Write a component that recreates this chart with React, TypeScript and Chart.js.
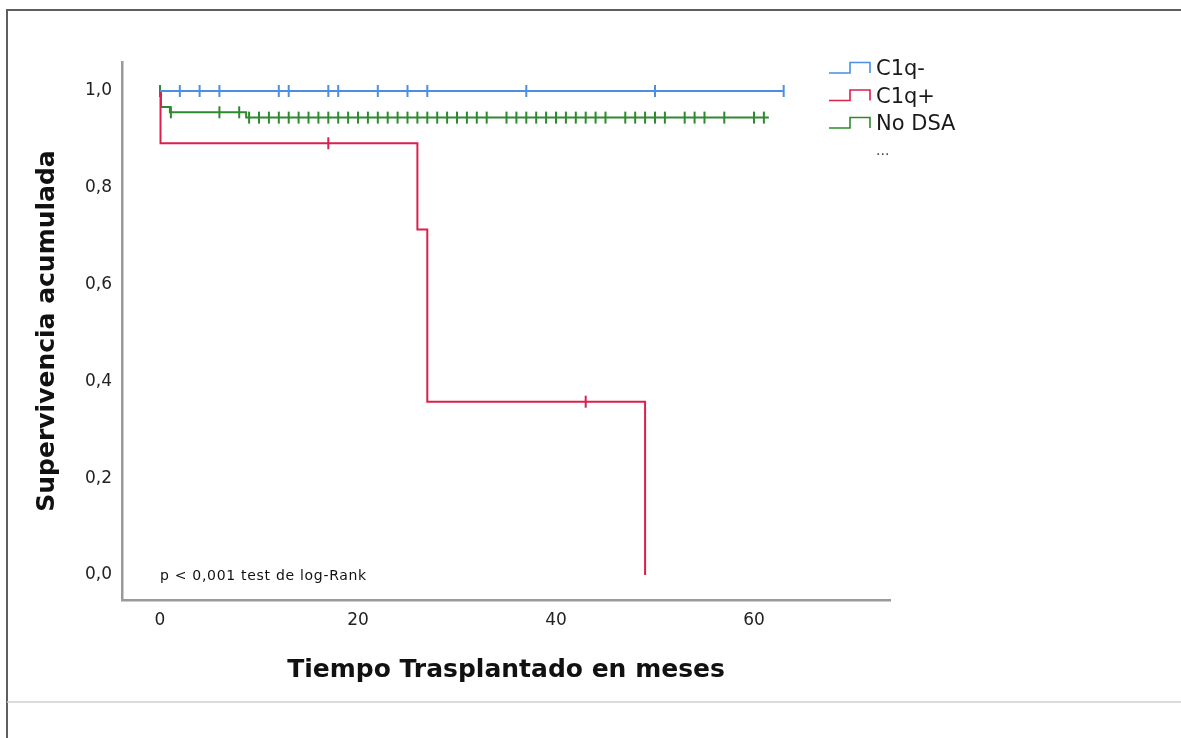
import { useEffect, useRef } from "react";
import { Chart, registerables } from "chart.js";

Chart.register(...registerables);

const groupLabels = ["C1q-", "C1q+", "No DSA"];
const groupColors = ["#4a8fe0", "#dc1f4c", "#2e8a2e"];

// Kaplan–Meier step points: time (months) and cumulative survival
const c1qNegTimes = [0, 63];
const c1qNegSurvival = [1, 1];
const c1qPosTimes = [0, 0.05, 26, 27, 49];
const c1qPosSurvival = [1, 0.892, 0.714, 0.358, 0];
const noDsaTimes = [0, 0.1, 1.0, 8.7, 61.5];
const noDsaSurvival = [1, 0.967, 0.956, 0.945, 0.945];

// Censored observations (months)
const c1qNegCensored = [2, 4, 6, 12, 13, 17, 18, 22, 25, 27, 37, 50, 63];
const c1qPosCensored = [17, 43];
const noDsaCensored = [
  0, 1.1, 6, 8, 9, 10, 11, 12, 13, 14, 15, 16, 17, 18, 19, 20, 21, 22, 23, 24,
  25, 26, 27, 28, 29, 30, 31, 32, 33, 35, 36, 37, 38, 39, 40, 41, 42, 43, 44,
  45, 47, 48, 49, 50, 51, 53, 54, 55, 57, 60, 61,
];

const xTicks = [0, 20, 40, 60];
const yTicks = [0, 0.2, 0.4, 0.6, 0.8, 1.0];

const FONT = "'DejaVu Sans', sans-serif";

function survivalAt(times: number[], surv: number[], t: number) {
  let v = surv[0];
  for (let i = 0; i < times.length; i++) {
    if (times[i] <= t) v = surv[i];
  }
  return v;
}

function curve(times: number[], surv: number[]) {
  return times.map((t, i) => ({ x: t, y: surv[i] }));
}

function censorPoints(times: number[], surv: number[], cens: number[]) {
  return cens.map((t) => ({ x: t, y: survivalAt(times, surv, t) }));
}

const decorations = {
  id: "kmDecorations",
  beforeDraw(chart: any) {
    const ctx = chart.ctx;
    ctx.save();
    ctx.fillStyle = "#ffffff";
    ctx.fillRect(0, 0, chart.width, chart.height);
    // outer frame
    ctx.strokeStyle = "#5e5e5e";
    ctx.lineWidth = 2;
    ctx.beginPath();
    ctx.moveTo(7, chart.height);
    ctx.lineTo(7, 10);
    ctx.lineTo(chart.width, 10);
    ctx.stroke();
    ctx.strokeStyle = "#cfcfcf";
    ctx.lineWidth = 1.5;
    ctx.beginPath();
    ctx.moveTo(7, 702);
    ctx.lineTo(chart.width, 702);
    ctx.stroke();
    ctx.restore();
  },
  afterDraw(chart: any) {
    const ctx = chart.ctx;
    const xs = chart.scales.x;
    const ys = chart.scales.y;
    ctx.save();
    // test annotation
    ctx.fillStyle = "#111";
    ctx.font = `14px ${FONT}`;
    (ctx as any).letterSpacing = "0.7px";
    ctx.textBaseline = "middle";
    ctx.textAlign = "left";
    ctx.fillText("p < 0,001 test de log-Rank", xs.getPixelForValue(0), ys.getPixelForValue(0) + 1);
    (ctx as any).letterSpacing = "0px";

    // legend with step symbols
    const lx = 829;
    groupLabels.forEach((label, i) => {
      const cy = 70 + i * 27.5;
      ctx.strokeStyle = groupColors[i];
      ctx.lineWidth = 1.6;
      ctx.beginPath();
      ctx.moveTo(lx, cy + 3);
      ctx.lineTo(lx + 21, cy + 3);
      ctx.lineTo(lx + 21, cy - 7.5);
      ctx.lineTo(lx + 41, cy - 7.5);
      ctx.lineTo(lx + 41, cy + 3);
      ctx.stroke();
      ctx.fillStyle = "#1a1a1a";
      ctx.font = `21px ${FONT}`;
      ctx.fillText(label, 876, cy);
    });
    ctx.fillStyle = "#444";
    ctx.font = `14px ${FONT}`;
    ctx.fillText("...", 876, 151);
    ctx.restore();
  },
};

export default function App() {
  const canvasRef = useRef<HTMLCanvasElement | null>(null);

  useEffect(() => {
    const canvas = canvasRef.current;
    if (!canvas) return;

    const lineSets = [
      [c1qNegTimes, c1qNegSurvival, c1qNegCensored],
      [c1qPosTimes, c1qPosSurvival, c1qPosCensored],
      [noDsaTimes, noDsaSurvival, noDsaCensored],
    ] as const;

    const datasets: any[] = [];
    lineSets.forEach(([times, surv], i) => {
      datasets.push({
        label: groupLabels[i],
        data: curve(times as number[], surv as number[]),
        borderColor: groupColors[i],
        borderWidth: 2,
        stepped: "before",
        pointRadius: 0,
        fill: false,
      });
    });
    lineSets.forEach(([times, surv, cens], i) => {
      datasets.push({
        label: groupLabels[i] + " censurado",
        data: censorPoints(times as number[], surv as number[], cens as number[]),
        showLine: false,
        pointStyle: "line",
        rotation: 90,
        pointRadius: 6,
        pointBorderWidth: 2,
        borderColor: groupColors[i],
        backgroundColor: groupColors[i],
      });
    });

    const chart = new Chart(canvas, {
      type: "line",
      data: { datasets },
      plugins: [decorations],
      options: {
        responsive: false,
        animation: false,
        layout: { padding: { left: 0, top: 62, right: 291, bottom: 0 } },
        plugins: {
          legend: { display: false },
          tooltip: { enabled: false },
        },
        scales: {
          x: {
            type: "linear",
            min: -3.84,
            max: 73.74,
            afterFit: (s: any) => {
              s.height = 138;
            },
            afterBuildTicks: (s: any) => {
              s.ticks = xTicks.map((v) => ({ value: v }));
            },
            grid: { display: false, drawTicks: false },
            border: { display: true, color: "#9a9a9a", width: 2.5 },
            ticks: {
              padding: 10,
              color: "#222",
              font: { family: FONT, size: 17 },
              callback: (v: any) => String(v),
            },
            title: {
              display: true,
              text: "Tiempo Trasplantado en meses",
              color: "#111",
              font: { family: FONT, size: 25, weight: "bold" },
              padding: { top: 0, bottom: 53 },
            },
          },
          y: {
            type: "linear",
            min: -0.0517,
            max: 1.0599,
            afterFit: (s: any) => {
              s.width = 122;
            },
            afterBuildTicks: (s: any) => {
              s.ticks = yTicks.map((v) => ({ value: v }));
            },
            grid: { display: false, drawTicks: false },
            border: { display: true, color: "#9a9a9a", width: 2.5 },
            ticks: {
              padding: 10,
              color: "#222",
              font: { family: FONT, size: 17 },
              callback: (v: any) => Number(v).toFixed(1).replace(".", ","),
            },
            title: {
              display: true,
              text: "Supervivencia acumulada",
              color: "#111",
              font: { family: FONT, size: 25, weight: "bold" },
              padding: { top: 32, bottom: 0 },
            },
          },
        },
      },
    });

    return () => chart.destroy();
  }, []);

  return (
    <canvas
      ref={canvasRef}
      width={1181}
      height={738}
      style={{ position: "absolute", left: 0, top: 0, width: 1181, height: 738 }}
    />
  );
}
